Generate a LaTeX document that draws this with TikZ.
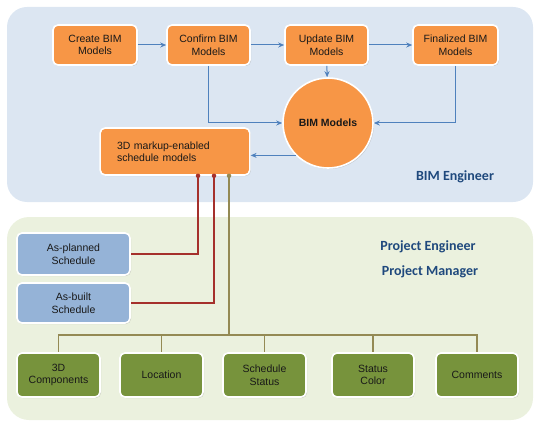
\documentclass[tikz,border=0pt]{standalone}
\usepackage{fontspec}
\setmainfont{Liberation Sans}
\newfontfamily\calib{Carlito}
\usetikzlibrary{shadows,arrows.meta}
\definecolor{topbg}{HTML}{DCE6F2}
\definecolor{botbg}{HTML}{EBF1DE}
\definecolor{orangebox}{HTML}{F79646}
\definecolor{bluebox}{HTML}{95B3D7}
\definecolor{greenbox}{HTML}{77933C}
\definecolor{arrowblue}{HTML}{4F81BD}
\definecolor{redline}{HTML}{A5302C}
\definecolor{oliveline}{HTML}{948A54}
\definecolor{titleblue}{HTML}{1F497D}
\begin{document}
\begin{tikzpicture}[x=1pt,y=-1pt,
  boxbase/.style={rounded corners=5pt, draw=white, line width=1.6pt,
    font=\fontsize{10.5}{12.5}\selectfont, text=black!90, align=center,
    drop shadow={opacity=0.3, shadow xshift=1pt, shadow yshift=-1pt}},
  obox/.style={boxbase, fill=orangebox, minimum height=40pt},
  bbox/.style={boxbase, fill=bluebox, minimum width=113pt},
  gbox/.style={boxbase, fill=greenbox, minimum height=44pt},
  barrow/.style={draw=arrowblue, line width=1pt, -{Stealth[length=6pt,width=5pt]}},
  redconn/.style={draw=redline, line width=1.1pt},
  oliveconn/.style={draw=oliveline, line width=1.1pt},
  pdot/.style={circle, inner sep=0pt, minimum size=4.5pt},
  role/.style={font=\calib\bfseries\fontsize{14}{16}\selectfont, text=titleblue}
]
\useasboundingbox (0,0) rectangle (534,422);
\fill[topbg, rounded corners=20pt] (7,7) rectangle (533,202);
\fill[botbg, rounded corners=22pt] (7,217) rectangle (533,420);

% top row
\node[obox, minimum width=84pt] (create) at (95,45) {Create BIM\\Models};
\node[obox, minimum width=83pt] (confirm) at (208.5,45) {Confirm BIM\\Models};
\node[obox, minimum width=83pt] (update) at (326.5,45) {Update BIM\\Models};
\node[obox, minimum width=85pt] (final) at (455.5,45) {Finalized BIM\\Models};
\node[circle, fill=orangebox, draw=white, line width=1.6pt, minimum size=90pt,
  drop shadow={opacity=0.3, shadow xshift=1pt, shadow yshift=-1pt},
  font=\bfseries\fontsize{10.5}{12.5}\selectfont, text=black!90] (bim) at (328,123) {BIM Models};
\node[obox, minimum height=47pt, text width=143pt, align=left] (mk) at (175,151.5)
  {\hspace*{13.5pt}3D markup-enabled\\\hspace*{13.5pt}schedule models};

\draw[barrow] (create) -- (confirm);
\draw[barrow] (confirm) -- (update);
\draw[barrow] (update) -- (final);
\draw[barrow] (update) -- (bim);
\draw[barrow] (confirm.south) |- (bim.west);
\draw[barrow] (final.south) |- (bim.east);
\draw[barrow] (bim.south west) -- (bim.south west -| mk.east);

\node[role] (bimeng) at (455,177) {BIM Engineer};
\node[role] (pe) at (428,247) {Project Engineer};
\node[role] (pm) at (430,272) {Project Manager};

% schedules
\node[bbox, minimum height=42pt] (ap) at (73.5,254) {As-planned\\Schedule};
\node[bbox, minimum height=40pt] (ab) at (73.5,303) {As-built\\Schedule};

% green boxes
\node[gbox, minimum width=83pt] (g1) at (58.5,375) {3D\\Components};
\node[gbox, minimum width=83pt] (g2) at (161.5,375) {Location};
\node[gbox, minimum width=83pt] (g3) at (264.5,375) {Schedule\\Status};
\node[gbox, minimum width=82pt] (g4) at (373,375) {Status\\Color};
\node[gbox, minimum width=82pt] (g5) at (477,375) {Comments};

% connectors
\coordinate (d1) at (198,0 |- mk.south);
\coordinate (d2) at (214,0 |- mk.south);
\coordinate (d3) at (229,0 |- mk.south);
\coordinate (bus) at (229,335);
\draw[redconn] (d1) |- (ap.east);
\draw[redconn] (d2) |- (ab.east);
\draw[oliveconn] (d3) -- (bus);
\foreach \g in {g1,g2,g3,g4,g5} \draw[oliveconn] (bus) -| (\g.north);
\node[pdot, fill=redline] at (d1) {};
\node[pdot, fill=redline] at (d2) {};
\node[pdot, fill=oliveline] at (d3) {};
\end{tikzpicture}
\end{document}
